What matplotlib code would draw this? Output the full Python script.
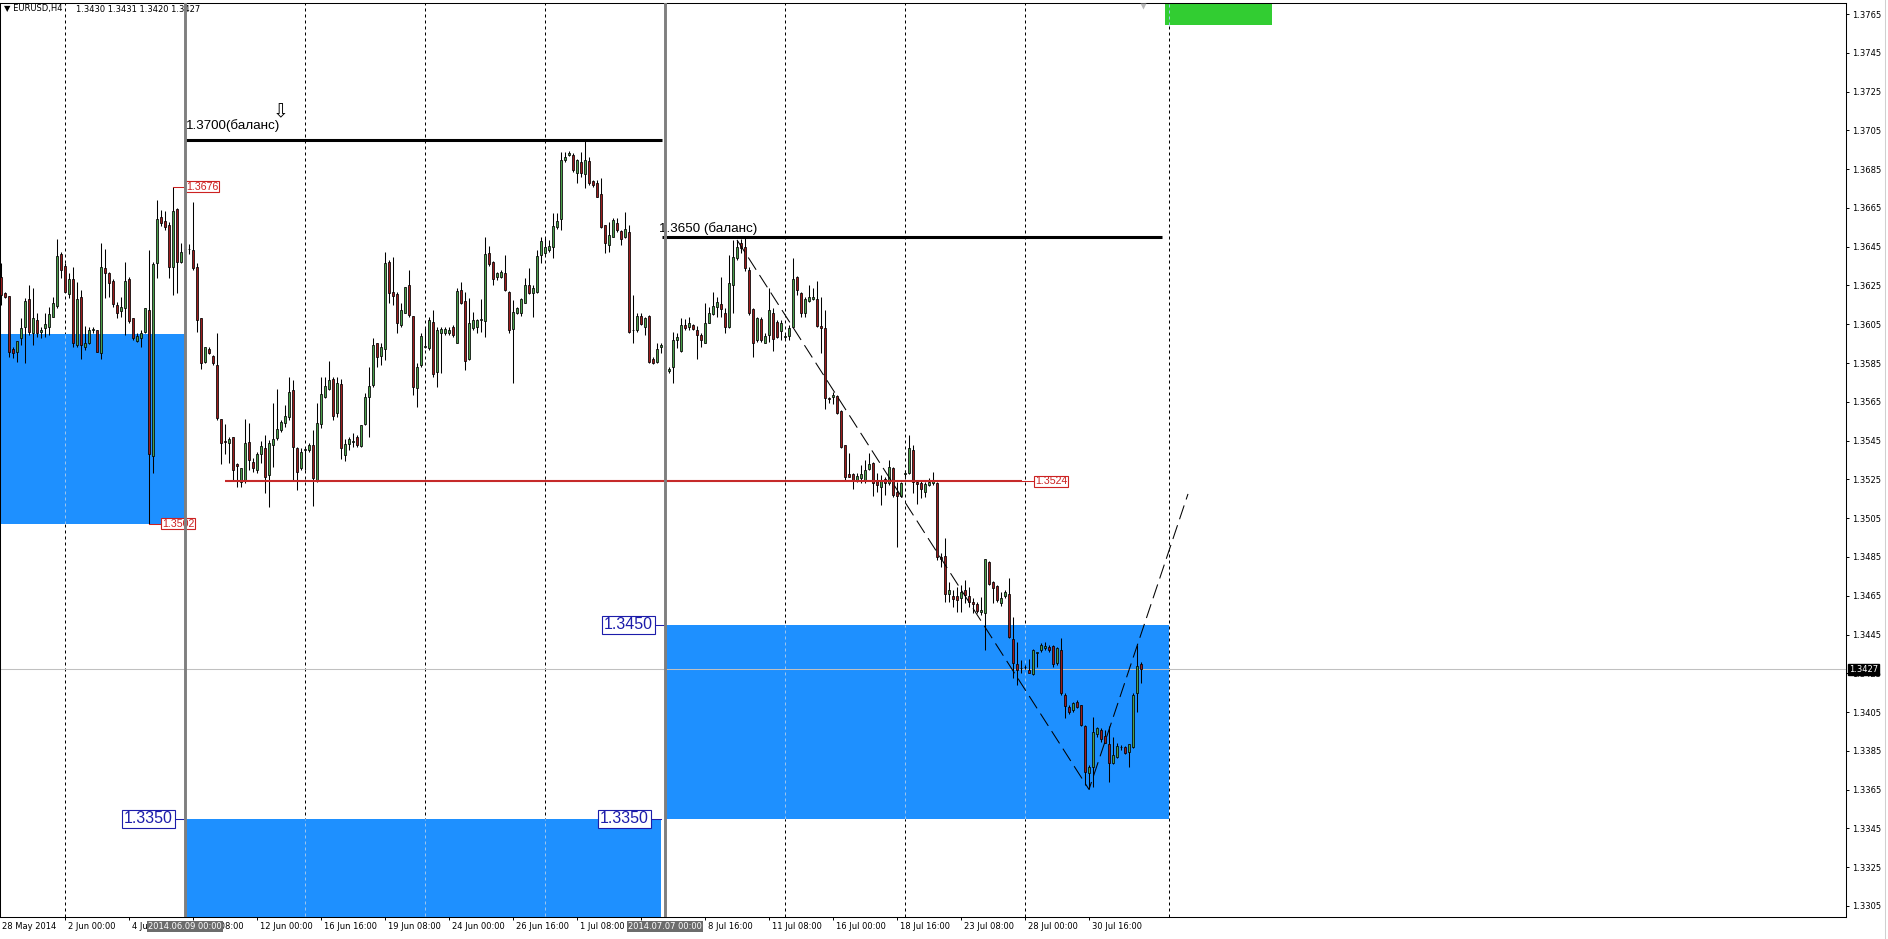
import numpy as np
import matplotlib
matplotlib.use("Agg")
import matplotlib.pyplot as plt
from matplotlib.patches import Rectangle
from matplotlib.lines import Line2D

# EURUSD H4, one value per bar from 28 May 2014 08:00 to 1 Aug 2014 20:00
# prices are pips above 1.3000
open_pips = [
    629.6, 621.0, 619.8, 592.1, 590.9, 597.8, 603.8, 617.9, 600.7, 607.2,
    601.2, 602.9, 603.8, 608.9, 614.5, 641.3, 635.1, 620.6, 628.2, 594.3,
    618.9, 593.1, 595.5, 602.1, 602.1, 590.0, 633.9, 631.3, 627.3, 615.0,
    612.0, 613.2, 628.2, 608.1, 596.6, 597.8, 601.2, 612.4, 537.1, 636.8,
    660.2, 658.3, 656.2, 634.4, 664.3, 637.3, 642.5, 644.0, 643.3, 634.7,
    608.1, 585.7, 592.1, 588.8, 584.0, 556.0, 544.7, 543.6, 546.7, 532.8,
    523.9, 524.7, 544.5, 534.2, 529.9, 538.1, 541.0, 527.3, 542.8, 546.2,
    550.5, 553.9, 557.0, 571.1, 541.0, 530.7, 540.2, 540.2, 542.8, 524.7,
    553.6, 567.7, 571.5, 576.6, 559.1, 574.2, 537.6, 543.3, 544.1, 547.1,
    542.2, 553.6, 567.3, 573.7, 595.5, 588.7, 592.1, 637.3, 621.8, 620.6,
    604.6, 610.6, 625.2, 609.3, 572.0, 584.0, 593.1, 592.6, 606.3, 580.5,
    600.3, 600.3, 600.7, 603.8, 595.5, 622.7, 617.2, 586.9, 602.9, 603.8,
    607.2, 606.8, 641.9, 637.3, 629.2, 629.5, 631.6, 621.8, 602.4, 610.6,
    610.6, 616.1, 625.2, 621.0, 621.8, 640.7, 641.9, 643.3, 645.0, 655.3,
    659.1, 689.7, 692.3, 692.3, 682.8, 688.8, 682.5, 689.2, 678.9, 678.0,
    672.0, 656.2, 645.9, 650.2, 657.0, 653.2, 649.8, 652.7, 602.0, 602.0,
    609.3, 603.8, 609.3, 586.9, 585.7, 593.4, 594.0, 581.1, 582.8, 596.9,
    591.4, 604.6, 603.4, 604.6, 602.0, 599.5, 595.5, 605.8, 610.3, 613.8,
    615.5, 611.0, 603.4, 625.2, 639.0, 646.7, 645.0, 633.0, 612.7, 596.9,
    607.5, 595.5, 599.5, 611.0, 606.3, 601.7, 598.6, 599.0, 603.8, 629.2,
    621.0, 610.6, 617.2, 617.9, 617.9, 604.1, 602.9, 566.8, 567.7, 568.0,
    560.4, 542.7, 527.8, 527.8, 524.7, 525.5, 524.7, 530.2, 533.5, 524.3,
    521.3, 525.0, 523.3, 530.7, 518.7, 516.4, 527.8, 528.1, 540.2, 523.8,
    523.3, 518.7, 522.1, 523.0, 523.3, 484.8, 485.5, 466.0, 464.9, 464.9,
    463.6, 468.0, 464.9, 461.9, 460.7, 456.8, 456.3, 482.6, 472.2, 470.0,
    461.4, 464.9, 465.9, 442.5, 429.8, 427.6, 428.1, 426.7, 424.6, 435.6,
    437.0, 437.9, 438.4, 439.0, 430.5, 437.0, 413.8, 407.8, 406.0, 410.4,
    408.6, 397.8, 373.4, 376.8, 393.7, 395.8, 392.6, 388.5, 378.9, 381.7,
    386.8, 387.2, 384.5, 387.2, 414.7, 430.0]
high_pips = [
    636.5, 621.8, 619.8, 593.5, 596.6, 608.1, 618.4, 625.3, 623.6, 610.7,
    603.8, 611.0, 614.1, 619.3, 648.8, 642.5, 636.5, 631.6, 634.7, 627.0,
    622.7, 604.1, 603.4, 603.8, 602.1, 647.1, 643.7, 632.2, 628.2, 616.7,
    619.3, 637.3, 629.6, 608.1, 600.3, 602.1, 613.2, 643.3, 637.0, 669.1,
    663.9, 663.4, 657.9, 676.0, 664.8, 646.8, 646.0, 646.4, 668.3, 636.8,
    608.1, 593.5, 593.1, 589.2, 600.7, 556.0, 553.6, 547.1, 547.1, 533.3,
    530.7, 556.0, 554.3, 535.9, 539.3, 545.0, 547.9, 545.3, 564.3, 571.5,
    555.7, 563.4, 578.0, 576.3, 541.9, 541.0, 541.0, 543.6, 550.5, 564.3,
    578.0, 578.0, 586.3, 578.0, 578.0, 576.6, 545.7, 547.1, 549.1, 547.9,
    553.1, 569.4, 583.2, 597.8, 595.5, 595.2, 642.5, 638.2, 639.9, 621.8,
    615.8, 624.4, 633.0, 609.3, 584.9, 600.3, 603.8, 608.9, 612.4, 603.8,
    603.8, 603.8, 603.8, 604.4, 623.5, 627.0, 621.8, 618.4, 611.5, 607.5,
    617.8, 650.2, 645.4, 637.8, 632.1, 633.0, 640.7, 622.3, 617.5, 614.1,
    618.4, 628.7, 633.8, 625.2, 643.3, 649.8, 649.3, 648.5, 662.2, 662.2,
    694.0, 694.0, 694.5, 693.1, 690.5, 694.0, 699.7, 691.4, 679.4, 679.4,
    680.2, 656.2, 657.9, 659.6, 659.6, 653.6, 663.1, 656.2, 620.1, 611.0,
    610.6, 608.6, 609.8, 588.3, 595.2, 595.2, 595.0, 583.1, 601.2, 600.7,
    608.1, 607.5, 608.9, 605.1, 604.1, 600.3, 615.8, 614.1, 621.8, 619.3,
    629.2, 613.2, 640.7, 648.5, 648.5, 648.8, 649.3, 634.7, 613.2, 608.9,
    608.9, 600.3, 623.5, 613.2, 607.2, 607.2, 600.3, 604.6, 639.0, 629.9,
    621.8, 619.3, 625.3, 623.5, 627.5, 619.3, 612.4, 567.7, 570.2, 568.5,
    560.8, 542.7, 538.8, 528.1, 528.5, 532.4, 535.0, 538.8, 534.1, 528.1,
    527.3, 526.4, 535.0, 531.6, 523.8, 523.8, 529.8, 547.9, 542.7, 524.7,
    524.7, 523.8, 525.5, 529.0, 523.8, 486.9, 494.6, 472.0, 468.0, 469.7,
    470.5, 473.1, 469.7, 463.6, 461.9, 464.5, 483.8, 483.1, 472.8, 470.5,
    467.1, 468.0, 474.0, 454.2, 441.3, 431.8, 429.3, 432.2, 437.4, 436.1,
    440.8, 441.3, 439.6, 439.6, 438.7, 443.0, 414.7, 408.6, 410.4, 411.2,
    408.6, 398.3, 377.7, 402.6, 397.5, 396.6, 395.8, 397.8, 392.3, 388.9,
    388.0, 387.5, 388.5, 414.7, 439.6, 431.0]
low_pips = [
    615.0, 618.4, 588.3, 587.5, 585.7, 594.3, 584.9, 599.5, 594.3, 598.6,
    597.8, 598.6, 599.5, 608.9, 613.2, 628.7, 621.8, 618.4, 593.5, 593.5,
    587.0, 591.8, 594.9, 600.3, 590.9, 587.0, 618.4, 619.3, 614.1, 608.1,
    608.9, 599.5, 605.9, 596.9, 596.1, 593.5, 600.3, 502.0, 528.5, 628.7,
    655.7, 653.6, 628.7, 620.1, 621.0, 636.5, 640.0, 641.3, 633.0, 601.2,
    581.8, 584.9, 589.7, 584.0, 555.7, 533.0, 538.1, 533.3, 524.7, 520.9,
    521.3, 523.3, 529.9, 529.0, 528.2, 533.3, 517.8, 510.6, 531.6, 545.3,
    549.6, 552.2, 555.7, 524.7, 519.6, 529.9, 529.9, 539.3, 511.3, 523.9,
    551.4, 566.8, 571.1, 555.7, 557.4, 535.4, 534.7, 540.2, 541.6, 541.9,
    541.9, 553.1, 547.1, 572.9, 583.2, 584.0, 586.6, 615.8, 615.0, 600.7,
    603.8, 610.6, 608.9, 568.5, 562.5, 583.1, 592.6, 591.7, 578.0, 572.8,
    579.7, 599.5, 599.5, 598.6, 595.5, 615.4, 581.4, 586.6, 602.0, 600.3,
    601.2, 598.6, 635.0, 625.2, 627.8, 628.7, 622.3, 600.3, 574.9, 610.3,
    609.3, 615.8, 620.6, 608.9, 621.3, 636.7, 640.7, 642.4, 639.0, 654.0,
    653.6, 688.8, 691.8, 683.7, 677.7, 681.1, 675.1, 676.8, 676.0, 670.4,
    654.5, 641.9, 642.4, 649.8, 652.7, 645.9, 649.3, 600.7, 595.5, 601.2,
    604.6, 599.5, 584.9, 584.5, 584.9, 590.0, 579.0, 579.7, 574.9, 592.6,
    590.9, 602.0, 602.0, 602.0, 586.9, 593.4, 595.2, 605.5, 609.8, 608.9,
    608.9, 600.7, 602.9, 610.6, 638.1, 641.6, 632.6, 609.8, 587.9, 596.0,
    596.0, 595.2, 596.0, 591.4, 597.7, 596.9, 596.9, 596.9, 603.4, 620.1,
    608.9, 608.6, 616.7, 617.5, 603.8, 590.0, 561.1, 564.2, 563.9, 558.7,
    541.0, 524.7, 526.1, 519.9, 523.8, 523.0, 523.0, 529.8, 516.4, 518.7,
    511.8, 516.9, 522.1, 516.1, 490.3, 516.1, 526.4, 527.8, 517.8, 512.3,
    515.2, 516.1, 521.6, 522.1, 483.4, 480.0, 462.0, 462.0, 459.3, 456.8,
    456.8, 461.1, 459.3, 455.9, 455.9, 455.1, 437.0, 470.5, 461.1, 461.9,
    459.7, 463.6, 443.0, 422.4, 418.9, 425.0, 427.0, 425.0, 424.1, 428.4,
    436.1, 437.0, 436.1, 428.4, 429.3, 413.8, 401.8, 404.0, 405.2, 406.9,
    397.8, 367.4, 365.1, 366.5, 392.3, 389.7, 388.9, 369.1, 378.2, 381.1,
    385.4, 383.3, 376.5, 386.3, 405.2, 420.0]
close_pips = [
    620.1, 619.3, 590.9, 590.0, 596.6, 602.9, 617.0, 601.2, 608.1, 600.3,
    602.1, 605.2, 610.3, 615.8, 640.2, 633.0, 621.8, 628.2, 595.2, 617.9,
    594.3, 595.5, 602.1, 602.4, 590.9, 634.7, 631.6, 626.1, 615.5, 611.0,
    613.8, 627.3, 606.9, 597.8, 599.0, 600.7, 613.2, 538.1, 635.9, 659.1,
    657.1, 655.0, 634.7, 663.4, 637.3, 642.5, 644.0, 643.6, 633.9, 607.2,
    584.9, 593.1, 590.0, 584.9, 556.5, 543.6, 544.5, 545.7, 529.9, 531.9,
    530.7, 543.6, 535.0, 530.7, 538.1, 542.2, 526.4, 543.6, 545.7, 550.8,
    554.8, 557.7, 570.3, 541.9, 529.0, 539.3, 540.7, 542.8, 525.6, 553.9,
    568.9, 573.2, 576.3, 557.9, 574.9, 541.0, 543.3, 545.7, 544.8, 542.8,
    553.1, 567.7, 573.2, 594.3, 588.3, 593.1, 636.8, 621.0, 619.8, 605.9,
    612.4, 624.0, 609.8, 572.8, 583.1, 598.9, 593.8, 607.2, 579.3, 602.0,
    602.4, 602.7, 602.0, 599.5, 622.3, 615.8, 586.2, 605.8, 607.2, 607.2,
    607.9, 641.2, 636.1, 628.2, 631.3, 632.1, 622.7, 602.0, 611.5, 613.2,
    617.8, 625.2, 621.0, 623.5, 640.2, 648.1, 645.0, 645.4, 655.7, 658.4,
    689.7, 691.4, 693.5, 684.6, 689.7, 682.8, 689.7, 678.0, 676.8, 670.8,
    655.0, 647.1, 651.0, 658.8, 653.6, 648.8, 654.0, 601.2, 602.2, 609.3,
    605.1, 608.1, 585.7, 584.9, 592.1, 594.1, 582.0, 581.8, 596.9, 598.3,
    604.6, 602.9, 605.8, 602.4, 599.5, 596.9, 605.8, 610.6, 614.4, 616.7,
    612.7, 603.8, 626.1, 639.9, 645.0, 644.2, 633.8, 611.0, 595.5, 608.1,
    596.9, 599.0, 612.4, 597.3, 598.6, 605.8, 599.0, 602.9, 628.2, 622.7,
    611.0, 617.9, 618.9, 619.3, 604.1, 602.9, 566.8, 566.3, 568.5, 559.1,
    541.9, 526.4, 526.4, 524.7, 526.7, 527.8, 529.8, 532.9, 523.0, 522.1,
    524.7, 523.3, 531.6, 516.9, 516.4, 523.0, 528.5, 541.0, 523.8, 522.6,
    519.9, 522.6, 523.8, 524.7, 485.1, 483.8, 466.0, 468.0, 463.1, 462.8,
    467.1, 465.4, 461.9, 460.7, 457.3, 457.6, 483.8, 471.1, 468.8, 462.8,
    463.6, 467.1, 443.6, 430.5, 426.7, 427.9, 428.4, 425.3, 437.0, 436.0,
    439.6, 439.0, 437.0, 429.8, 437.9, 414.7, 408.1, 405.2, 409.8, 407.4,
    398.3, 374.3, 376.8, 394.9, 396.6, 390.9, 389.2, 378.9, 382.9, 387.5,
    387.2, 383.7, 388.5, 413.8, 428.7, 427.0]

# time axis labels (bar index of each label)
date_bars = [0, 16, 32, 48, 64, 80, 96, 112, 128, 144, 160, 176, 192, 208, 224, 240, 256, 272]
date_labels = ["28 May 2014", "2 Jun 00:00", "4 Jun 16:00", "9 Jun 08:00", "12 Jun 00:00",
               "16 Jun 16:00", "19 Jun 08:00", "24 Jun 00:00", "26 Jun 16:00", "1 Jul 08:00",
               "4 Jul 00:00", "8 Jul 16:00", "11 Jul 08:00", "16 Jul 00:00", "18 Jul 16:00",
               "23 Jul 08:00", "28 Jul 00:00", "30 Jul 16:00"]
grid_bars = [16, 46, 76, 106, 136, 166, 196, 226, 256]

# objects drawn on the chart
sep_bars = [46, 166]
sep_labels = ["2014.06.09 00:00", "2014.07.07 00:00"]
vline_bar = 292

balance_price = [1.3700, 1.3650]
balance_from = [46, 165.25]
balance_to = [165.25, 290.25]
balance_text = ["1.3700(баланс)", "1.3650 (баланс)"]
balance_text_bar = [46.25, 164.5]

support_price = 1.3524
support_from, support_to = 56, 255.25

zone_from = [-1, 46, 166]
zone_to = [46, 165, 292]
zone_lo = [1.3502, 1.3280, 1.3350]
zone_hi = [1.3600, 1.3350, 1.3450]
green_from, green_to = 291, 317.75
green_lo, green_hi = 1.37591, 1.3790

red_tag_bar = [43, 37, 255.25]
red_tag_price = [1.3676, 1.3502, 1.3524]
blue_tag_bar = [46, 166, 165]
blue_tag_price = [1.3350, 1.3450, 1.3350]

trend_bars = [184, 272, 296.75]
trend_price = [1.36485, 1.33651, 1.35175]

bid = 1.3427
header = "▼ EURUSD,H4"
header_vals = "1.3430 1.3431 1.3420 1.3427"

BULL, BEAR = "#4a9f4a", "#9c1c1c"
ZONE_BLUE = "#1e90ff"
TAG_RED = "#cc2222"
TAG_BLUE = "#1c1caa"

W, H = 1888, 939
PL, PT, PR, PB = 0, 3, 1846, 917
fig = plt.figure(figsize=(W / 100, H / 100), dpi=100)
ax = fig.add_axes([PL / W, 1 - PB / H, (PR - PL) / W, (PB - PT) / H])
xmin = -0.25
xmax = xmin + (PR - PL) / 4.0
ymin, ymax = 1.32993, 1.37707
ax.set_xlim(xmin, xmax)
ax.set_ylim(ymin, ymax)
ppx = (ymax - ymin) / (PB - PT)   # price per pixel
bpx = 0.25                        # bars per pixel
PT2PX = 100 / 72

o = 1.3 + np.array(open_pips) / 1e4
h = 1.3 + np.array(high_pips) / 1e4
l = 1.3 + np.array(low_pips) / 1e4
c = 1.3 + np.array(close_pips) / 1e4
h = np.maximum(h, np.maximum(o, c))
l = np.minimum(l, np.minimum(o, c))
x = np.arange(len(o))

# zones
for k0, k1, lo, hi in zip(zone_from, zone_to, zone_lo, zone_hi):
    ax.add_patch(Rectangle((k0, lo), k1 - k0, hi - lo, fc=ZONE_BLUE, ec="none", zorder=2))
ax.add_patch(Rectangle((green_from, green_lo), green_to - green_from, green_hi - green_lo,
                       fc="#32cd32", ec="none", zorder=2))

# grid and vertical marker
dash = (0, (3, 3))
ax.vlines(grid_bars + [vline_bar], ymin, ymax, colors="black", linestyles=dash, lw=0.72, zorder=1)
for k0, k1, lo, hi in list(zip(zone_from, zone_to, zone_lo, zone_hi)) + [(green_from, green_to, green_lo, green_hi)]:
    inside = [g for g in grid_bars + [vline_bar] if k0 < g < k1]
    if inside:
        ax.vlines(inside, lo, min(hi, ymax), colors="#9cc4ee", linestyles=dash, lw=0.72, zorder=2.2)

ax.axhline(bid, color="#c0c0c0", lw=0.75, zorder=2.5)

# candles
up = c >= o
ax.vlines(x, l, h, color="black", lw=0.75, zorder=3)
body_lo = np.minimum(o, c)
body_h = np.maximum(np.abs(c - o), 0.000012)
ax.bar(x[up], body_h[up], width=0.72, bottom=body_lo[up], color=BULL, edgecolor="black", lw=0.55, zorder=3.1)
ax.bar(x[~up], body_h[~up], width=0.72, bottom=body_lo[~up], color=BEAR, edgecolor="black", lw=0.55, zorder=3.1)

# balance levels
for p, k0, k1, txt, kt, off in zip(balance_price, balance_from, balance_to, balance_text, balance_text_bar, [11, 5]):
    ax.hlines(p, k0, k1, color="black", lw=2.2, zorder=4)
    ax.annotate(txt, (kt, p), xytext=(0, off / PT2PX), textcoords="offset points",
                ha="left", va="baseline", fontsize=9.6, family="Liberation Sans", zorder=5)
ax.text(70, 1.37145, "⇩", fontsize=13.5, ha="center", va="center", family="DejaVu Sans", zorder=5)

ax.hlines(support_price, support_from, support_to, color="#c62a2a", lw=1.5, zorder=4)
ax.plot(trend_bars, trend_price, color="black", lw=0.75, ls=(0, (14, 6)), zorder=4)

# price tags
def tag(k, p, side, gap, w, hgt, color, fs, txt):
    if side > 0:
        x0 = k + gap * bpx
        ax.plot([k, x0], [p, p], color=color, lw=0.75, zorder=5)
    else:
        x0 = k - (gap + w) * bpx
        ax.plot([x0 + w * bpx, k], [p, p], color=color, lw=0.75, zorder=5)
    ax.add_patch(Rectangle((x0, p - hgt / 2 * ppx), w * bpx, hgt * ppx, fc="white", ec=color,
                           lw=0.8, zorder=5))
    ax.text(x0 + w * bpx / 2, p, txt, color=color, fontsize=fs, ha="center", va="center",
            family="Liberation Sans", zorder=5.1)

for k, p in zip(red_tag_bar, red_tag_price):
    tag(k, p, 1, 12, 34, 11, TAG_RED, 7.7, f"{p:.4f}")
for k, p in zip(blue_tag_bar, blue_tag_price):
    tag(k, p, -1, 10, 53, 18, TAG_BLUE, 11.5, f"{p:.4f}")

# header
ax.annotate(header, (0, 1), xycoords="axes fraction", xytext=(4 / PT2PX, -6 / PT2PX),
            textcoords="offset points", ha="left", va="center", fontsize=6, zorder=5)
ax.annotate(header_vals, (0, 1), xycoords="axes fraction", xytext=(76 / PT2PX, -6 / PT2PX),
            textcoords="offset points", ha="left", va="center", fontsize=6, zorder=5)

# separators
for k, lab in zip(sep_bars, sep_labels):
    ax.axvline(k, color="#7f7f7f", lw=2.1, zorder=6)

# chart shift marker
ax.plot([len(o) - 1 + 0.5], [ymax - 3 * ppx], marker="v", ms=5, color="#b8b8b8",
        mec="none", clip_on=False, zorder=7)

# x axis
ax.set_xticks(date_bars[1:])
ax.tick_params(axis="x", length=2.5, width=0.7, direction="out", labelbottom=False)
for k, lab in zip(date_bars, date_labels):
    ax.annotate(lab, (k, 0), xycoords=("data", "axes fraction"), xytext=(2.2 if k else 0.5, -3.5),
                textcoords="offset points", ha="left", va="top", fontsize=6, annotation_clip=False)
for k, lab in zip(sep_bars, sep_labels):
    ax.annotate(lab, (k, 0), xycoords=("data", "axes fraction"), xytext=(0, -3.3),
                textcoords="offset points", ha="center", va="top", fontsize=6, color="white",
                annotation_clip=False, zorder=8,
                bbox=dict(boxstyle="square,pad=0.12", fc="#6c6c6c", ec="none"))

# y axis
yt = np.round(np.arange(1.3305, 1.37651, 0.002), 4)
ax.yaxis.tick_right()
ax.set_yticks(yt)
ax.set_yticklabels([f"{v:.4f}" for v in yt], fontsize=6)
ax.tick_params(axis="y", length=2.5, width=0.7, pad=2)
ax.annotate(f"{bid:.4f}", (1, bid), xycoords=("axes fraction", "data"), xytext=(2.2, 0),
            textcoords="offset points", ha="left", va="center", fontsize=6, color="white",
            annotation_clip=False, zorder=8,
            bbox=dict(boxstyle="square,pad=0.1", fc="black", ec="black"))

for s in ax.spines.values():
    s.set_color("black")
    s.set_linewidth(0.75)
fig.add_artist(Line2D([1885 / W, 1885 / W], [0, 1], color="#d0d0d0", lw=0.75))

fig.savefig("out.png", dpi=100)
